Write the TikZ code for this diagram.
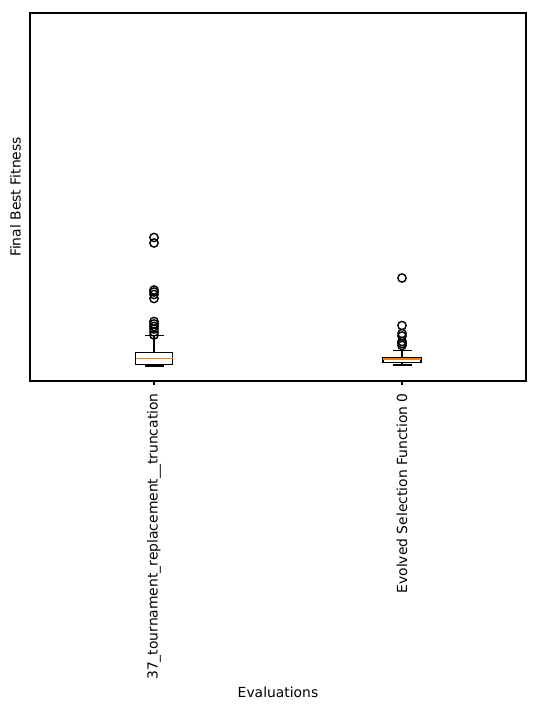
\documentclass[tikz,border=0pt]{standalone}
\usepackage{fontspec}
\setmainfont{DejaVu Sans}
\definecolor{mplorange}{HTML}{FF7F0E}

\begin{document}
\begin{tikzpicture}[x=0.72pt,y=-0.72pt,
  frame/.style={line width=0.8pt},
  boxline/.style={line width=1pt},
  median/.style={line width=1pt,draw=mplorange},
  flier/.style={circle,draw,line width=1pt,minimum size=6pt,inner sep=0pt},
  lbl/.style={inner sep=0pt,font=\fontsize{10}{12}\selectfont}]
  \useasboundingbox (0,0) rectangle (539,709);

  % axes
  \draw[frame] (30,13) rectangle (526,381);
  \foreach \x in {154,402}
    \draw[frame] (\x,381) -- (\x,384.5);

  % first box
  \draw[boxline] (135.5,352.5) rectangle (172.5,364.5);
  \draw[boxline] (154,364.5) -- (154,366) (144.5,366) -- (163.5,366);
  \draw[boxline] (154,352.5) -- (154,335.5) (144.5,335.5) -- (163.5,335.5);
  \draw[median] (135.5,358.5) -- (172.5,358.5);
  \foreach \y [count=\i] in {237.5,243,290,292,294.5,298.5,321.5,324,326.5,329,332,335}
    \node[flier] (fa\i) at (154,\y) {};

  % second box
  \draw[boxline] (383,357.5) rectangle (421,362.5);
  \draw[boxline] (402,362.5) -- (402,365) (392.5,365) -- (411.5,365);
  \draw[boxline] (402,357.5) -- (402,350.5) (392.5,350.5) -- (411.5,350.5);
  \draw[median] (383,359) -- (421,359);
  \foreach \y [count=\i] in {278,325.5,333.5,336,341.5,343.5,345.5}
    \node[flier] (fb\i) at (402,\y) {};

  % labels
  \node[lbl,rotate=90,anchor=east] (t1) at (154,393) {37\_tournament\_replacement\_\_truncation};
  \node[lbl,rotate=90,anchor=east] (t2) at (402,393) {Evolved Selection Function 0};
  \node[lbl,rotate=90] (ylab) at (15.5,197) {Final Best Fitness};
  \node[lbl] (xlab) at (278,692) {Evaluations};
\end{tikzpicture}
\end{document}
